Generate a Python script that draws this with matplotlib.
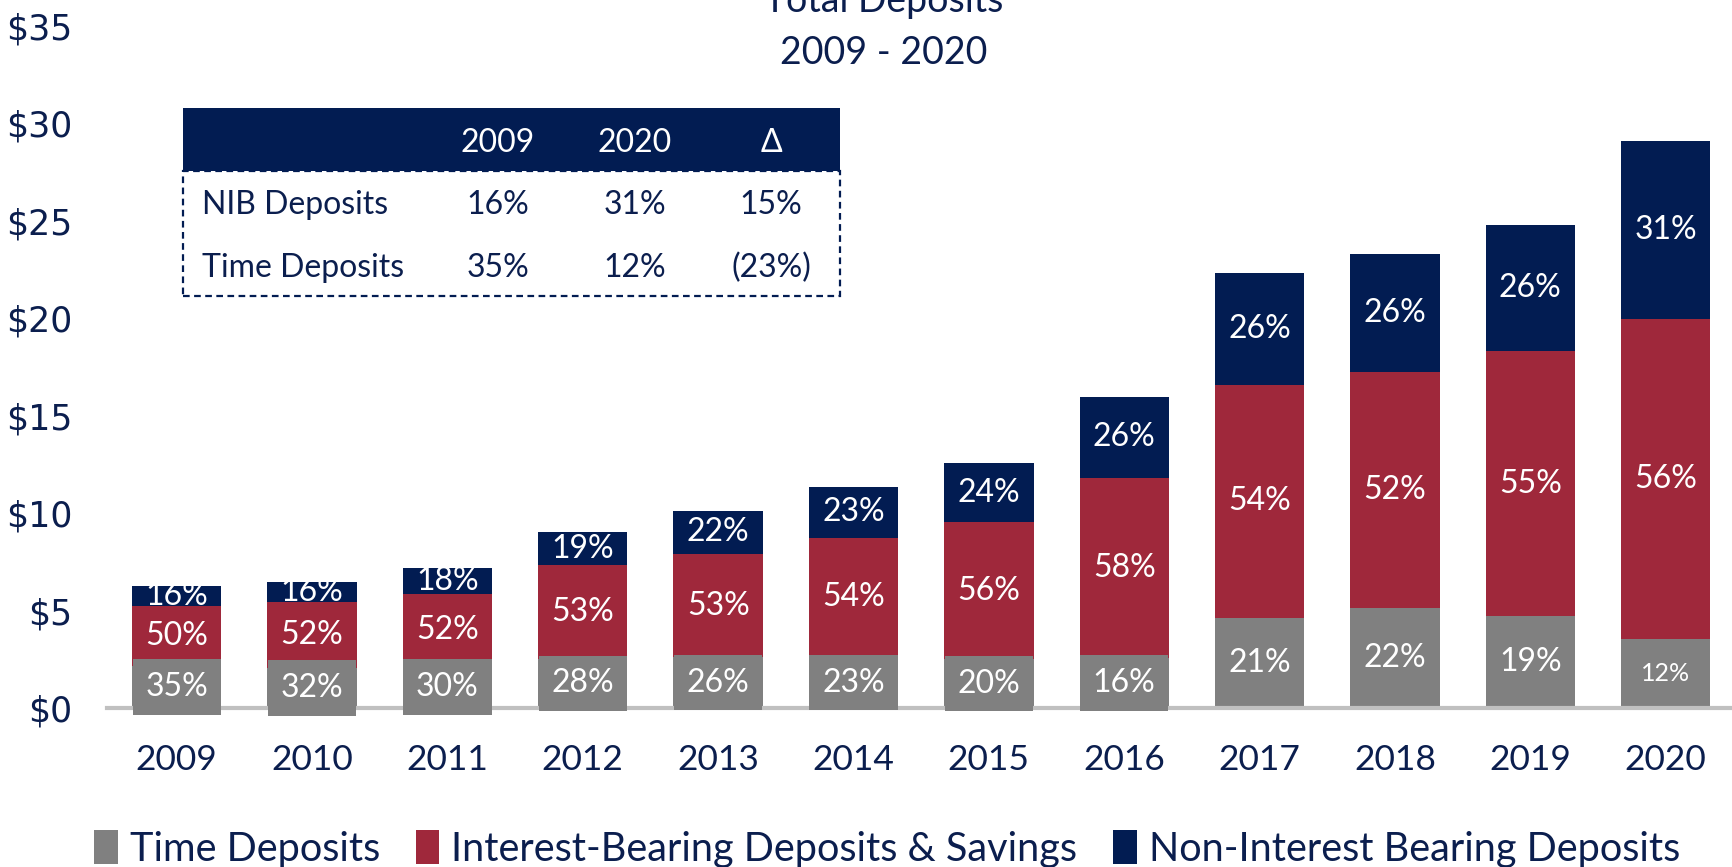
import matplotlib
matplotlib.use("Agg")
import matplotlib.pyplot as plt
from matplotlib.patches import Rectangle, Patch
import numpy as np

# ---- data ----
years = ["2009", "2010", "2011", "2012", "2013", "2014",
         "2015", "2016", "2017", "2018", "2019", "2020"]
total_deposits = [6.25, 6.48, 7.16, 9.03, 10.11, 11.36,
                  12.56, 15.97, 22.33, 23.30, 24.77, 29.09]   # $ billions
time_pct = [35, 32, 30, 28, 26, 23, 20, 16, 21, 22, 19, 12]
ib_pct = [50, 52, 52, 53, 53, 54, 56, 58, 54, 52, 55, 56]
nib_pct = [16, 16, 18, 19, 22, 23, 24, 26, 26, 26, 26, 31]

series_names = ["Time Deposits", "Interest-Bearing Deposits & Savings",
                "Non-Interest Bearing Deposits"]
y_ticks = [0, 5, 10, 15, 20, 25, 30, 35]

table_cols = ["2009", "2020", "Δ"]
table_rows = ["NIB Deposits", "Time Deposits"]
table_vals = [["16%", "31%", "15%"],
              ["35%", "12%", "(23%)"]]

# ---- style ----
GRAY = "#808080"
RED = "#9F283B"
NAVY = "#021C52"
TEXT = "#0B1E4E"
FONT = "Lato"

W, H = 1732, 867
fig = plt.figure(figsize=(W / 100, H / 100), dpi=100)


def fx(px):
    return px / W


def fy(py):
    return 1 - py / H


ax = fig.add_axes([fx(107), fy(708), 1 - fx(107), fy(26) - fy(708)])

x = np.arange(len(years))
tot = np.array(total_deposits)
pcts = np.array([time_pct, ib_pct, nib_pct], dtype=float)
# segment sizes from the stated shares, scaled so each stack reaches its total
seg = pcts / pcts.sum(axis=0) * tot
colors = [GRAY, RED, NAVY]
bw = 0.66

bottom = np.zeros(len(years))
for k in range(3):
    ax.bar(x, seg[k], bw, bottom=bottom, color=colors[k],
           edgecolor="none", zorder=2)
    for i in range(len(years)):
        cy = bottom[i] + seg[k][i] / 2
        label = f"{int(pcts[k][i])}%"
        size = 23
        if k == 0 and i == len(years) - 1:
            size = 18
        kw = {}
        if k == 0:
            kw["bbox"] = dict(boxstyle="square,pad=0.4", fc=GRAY,
                              ec="none")
        ax.text(x[i], cy, label, ha="center", va="center", color="white",
                fontsize=size, family=FONT, zorder=4, **kw)
    bottom += seg[k]

ax.set_xlim(-0.515, 11.49)
ax.set_ylim(0, 35)
ax.set_xticks(x)
ax.set_xticklabels(years, family=FONT, fontsize=25.5, color=TEXT)
ax.set_yticks(y_ticks)
ax.set_yticklabels([f"${v}" for v in y_ticks], family="DejaVu Sans",
                   fontsize=25, color=TEXT)
ax.tick_params(axis="both", length=0)
ax.tick_params(axis="x", pad=26)
ax.tick_params(axis="y", pad=25)
for s in ["top", "right", "left"]:
    ax.spines[s].set_visible(False)
ax.spines["bottom"].set_color("#C0C0C0")
ax.spines["bottom"].set_linewidth(3)
ax.spines["bottom"].set_zorder(3)

# ---- title ----
fig.text(fx(884), fy(12), "Total Deposits", ha="center", va="baseline",
         family=FONT, fontsize=27, color=TEXT)
fig.text(fx(884), fy(64), "2009 - 2020", ha="center", va="baseline",
         family=FONT, fontsize=27, color=TEXT)

# ---- summary table ----
tl, tr = 183, 840
fig.patches.append(Rectangle((fx(tl), fy(171)), fx(tr) - fx(tl),
                             fy(108) - fy(171), transform=fig.transFigure,
                             facecolor=NAVY, edgecolor="none", zorder=5))
fig.patches.append(Rectangle((fx(tl), fy(296)), fx(tr) - fx(tl),
                             fy(171) - fy(296), transform=fig.transFigure,
                             facecolor="none", edgecolor=NAVY, lw=1.6,
                             linestyle=(0, (3, 2)), zorder=5))
col_x = [498, 635, 771]
for cx, c in zip(col_x, table_cols):
    fig.text(fx(cx), fy(143), c, ha="center", va="center", color="white",
             family=FONT, fontsize=23, zorder=6)
row_y = [205, 268]
for ry, rname, vals in zip(row_y, table_rows, table_vals):
    fig.text(fx(202), fy(ry), rname, ha="left", va="center", color=TEXT,
             family=FONT, fontsize=23, zorder=6)
    for cx, v in zip(col_x, vals):
        fig.text(fx(cx), fy(ry), v, ha="center", va="center", color=TEXT,
                 family=FONT, fontsize=23, zorder=6)

# ---- legend ----
handles = [Patch(facecolor=c, edgecolor="none") for c in colors]
fig.legend(handles, series_names, loc="center",
           bbox_to_anchor=(fx(887), fy(849)), ncol=3, frameon=False,
           prop={"family": FONT, "size": 28.5}, labelcolor=TEXT,
           handlelength=0.6, handleheight=0.95, handletextpad=0.3,
           columnspacing=0.9, borderpad=0, borderaxespad=0)

fig.savefig("out.png", dpi=100)
